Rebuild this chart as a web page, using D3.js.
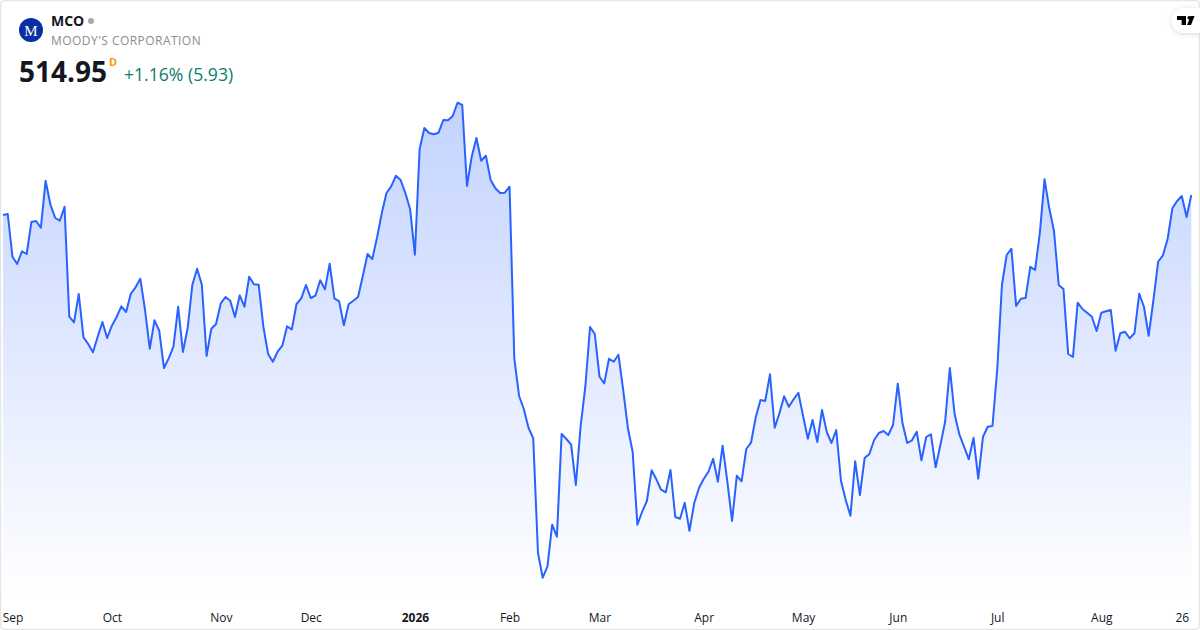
<!DOCTYPE html>
<html>
<head>
<meta charset="utf-8">
<style>
  html, body { margin: 0; padding: 0; background: #fff; }
  svg { display: block; font-family: "Open Sans", "Noto Sans", sans-serif; }
  .tick text { font-size: 12px; fill: #131722; }
</style>
<script src="https://cdn.jsdelivr.net/npm/d3@7"></script>
</head>
<body>
<svg width="1200" height="630"></svg>
<script>
// daily closes (252 sessions)
var closes = [
  509.95,510.20,499.52,497.70,500.87,500.20,508.20,508.45,506.77,518.52,
  512.62,509.27,508.52,512.02,484.52,483.12,490.20,479.37,477.70,475.62,
  479.52,483.20,479.20,482.27,484.45,487.12,485.70,490.27,491.87,494.02,
  486.20,476.52,483.62,481.02,471.70,474.12,477.02,487.02,475.70,481.62,
  492.52,496.52,492.52,474.70,481.52,482.70,487.87,489.45,488.52,484.45,
  489.87,487.02,494.52,492.62,492.52,482.02,475.20,473.27,475.77,477.27,
  482.12,481.32,487.70,489.12,492.45,489.20,489.77,493.62,491.37,497.77,
  489.12,488.37,482.37,487.62,488.52,489.45,494.70,500.20,498.95,504.27,
  510.37,515.45,517.12,519.77,518.70,515.37,511.37,500.02,526.37,531.70,
  530.45,530.12,530.52,533.70,533.62,534.70,538.02,537.45,517.20,524.52,
  529.20,523.52,524.77,518.70,516.62,515.45,515.52,517.02,474.12,464.77,
  461.45,456.77,454.12,425.52,419.27,422.02,432.52,429.52,455.20,453.95,
  452.52,442.45,457.02,467.02,481.95,480.20,469.52,467.87,474.02,473.27,
  475.02,466.20,456.62,450.77,432.52,435.77,438.45,446.12,443.87,441.27,
  440.62,446.20,434.45,434.02,438.02,431.02,437.87,441.70,443.95,445.77,
  449.02,443.27,452.27,443.27,433.45,444.77,443.37,451.45,453.02,459.37,
  463.70,463.45,470.12,456.77,460.37,464.62,462.02,463.87,465.52,459.70,
  454.02,458.70,453.20,461.20,455.70,452.95,456.20,443.52,438.70,434.77,
  448.37,439.95,449.20,450.20,453.70,455.45,455.95,454.95,457.45,467.77,
  457.87,452.95,453.62,455.77,448.62,454.45,455.12,446.87,452.45,458.27,
  471.70,460.20,455.12,452.02,448.87,454.27,444.02,454.52,457.02,457.20,
  471.20,492.45,499.95,501.52,487.20,489.02,489.20,497.02,496.20,505.37,
  518.87,511.62,505.95,492.45,491.45,475.20,474.45,488.02,486.45,485.52,
  484.52,480.95,485.52,485.87,486.20,476.02,480.37,480.77,479.12,480.45,
  490.27,487.02,479.77,488.70,498.27,499.87,503.95,511.62,513.45,514.70,
  509.45,514.95
];
var tickLabels = ["Sep", "Oct", "Nov", "Dec", "2026", "Feb", "Mar", "Apr", "May", "Jun", "Jul", "Aug", "26"];
var tickSessions = [2, 23, 46, 65, 87, 107, 126, 148, 169, 189, 210, 232, 249];

var symbol = "MCO";
var company = "MOODY'S CORPORATION";
var lastPrice = "514.95";
var change = "+1.16% (5.93)";

var svg = d3.select("svg");

var x = d3.scaleLinear().domain([0, closes.length - 1]).range([3, 1191.3]);
var y = d3.scaleLinear().domain([416.2, 541.2]).range([590, 90]);
var baseY = 600;

var defs = svg.append("defs");
var grad = defs.append("linearGradient")
    .attr("id", "areaFill")
    .attr("gradientUnits", "userSpaceOnUse")
    .attr("x1", 0).attr("x2", 0)
    .attr("y1", y(d3.max(closes))).attr("y2", baseY);
grad.append("stop").attr("offset", 0).attr("stop-color", "#2962ff").attr("stop-opacity", 0.28);
grad.append("stop").attr("offset", 1).attr("stop-color", "#2962ff").attr("stop-opacity", 0);

var filter = defs.append("filter").attr("id", "pillShadow")
    .attr("x", "-50%").attr("y", "-50%").attr("width", "200%").attr("height", "200%");
filter.append("feDropShadow").attr("dx", 0).attr("dy", 1).attr("stdDeviation", 2.5)
    .attr("flood-color", "#000").attr("flood-opacity", 0.16);

var area = d3.area()
    .x(function (d, i) { return x(i) })
    .y0(baseY)
    .y1(function (d) { return y(d) });
var line = d3.line()
    .x(function (d, i) { return x(i) })
    .y(function (d) { return y(d) });

svg.append("path").datum(closes).attr("d", area).attr("fill", "url(#areaFill)");
svg.append("path").datum(closes).attr("d", line)
    .attr("fill", "none")
    .attr("stroke", "#2962ff")
    .attr("stroke-width", 2)
    .attr("stroke-linejoin", "round");

// month axis
var axis = d3.axisBottom(x)
    .tickValues(tickSessions)
    .tickSize(0)
    .tickPadding(0)
    .tickFormat(function (d, i) { return tickLabels[i] });
var axisG = svg.append("g").attr("transform", "translate(0,613.5)").call(axis);
axisG.attr("font-family", null).attr("font-size", null);
axisG.select(".domain").remove();
axisG.selectAll("text")
    .attr("dy", "0.71em")
    .attr("font-weight", function (d, i) { return tickLabels[i] == "2026" ? 700 : 400 });

// card border
svg.append("rect")
    .attr("x", 0.5).attr("y", 0.5).attr("width", 1199).attr("height", 629)
    .attr("rx", 4)
    .attr("fill", "none").attr("stroke", "#e6e6e6").attr("stroke-width", 1.5);

// header
svg.append("circle").attr("cx", 31).attr("cy", 30).attr("r", 12).attr("fill", "#0a2ea4");
svg.append("text").attr("x", 31).attr("y", 35.5).attr("text-anchor", "middle")
    .attr("font-family", "'Liberation Serif', serif").attr("font-size", 15)
    .attr("fill", "#fff").text("M");
svg.append("text").attr("x", 51).attr("y", 26).attr("font-size", 14).attr("font-weight", 700)
    .attr("fill", "#131722").text(symbol);
svg.append("circle").attr("cx", 91).attr("cy", 21).attr("r", 3).attr("fill", "#a8a8a8");
svg.append("text").attr("x", 51).attr("y", 45).attr("font-size", 12)
    .attr("letter-spacing", 0.46)
    .attr("fill", "#8c8c8c").text(company);
svg.append("text").attr("x", 19).attr("y", 82).attr("font-size", 28).attr("font-weight", 700)
    .attr("fill", "#131722").text(lastPrice);
svg.append("text").attr("x", 109).attr("y", 66).attr("font-size", 11).attr("font-weight", 700)
    .attr("fill", "#ff9800").text("D");
svg.append("text").attr("x", 124).attr("y", 81).attr("font-size", 17.6)
    .attr("fill", "#0b7d6c").text(change);

// logo pill, top right
var pill = svg.append("g");
pill.append("path")
    .attr("d", "M1200 8H1184a12.5 12.5 0 0 0 0 25H1200Z")
    .attr("fill", "#fff")
    .attr("filter", "url(#pillShadow)");
pill.append("path")
    .attr("d", "M1177 16h9v9h-4.4v-5h-4.6Z M1190.6 16h4l-3.6 9h-4Z")
    .attr("fill", "#000");
pill.append("circle").attr("cx", 1189.2).attr("cy", 17.8).attr("r", 1.8).attr("fill", "#000");
</script>
</body>
</html>
